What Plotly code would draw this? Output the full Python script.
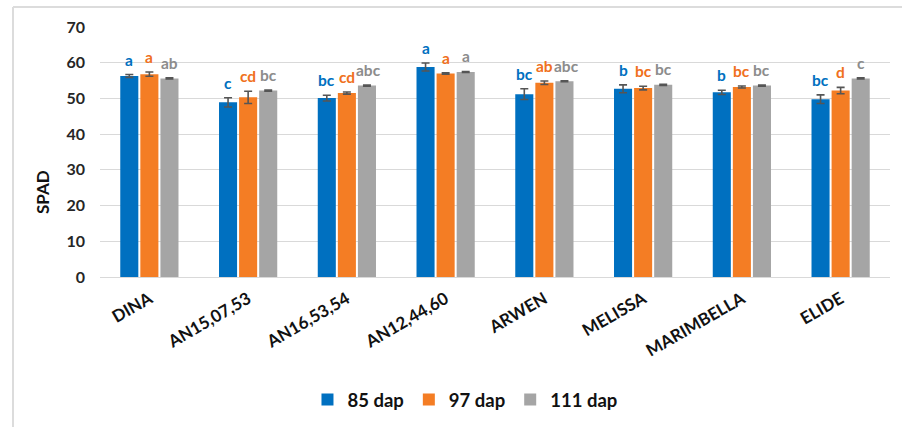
import plotly.graph_objects as go

# Genotypes on the x axis
genotypes = ["DINA", "AN15,07,53", "AN16,53,54", "AN12,44,60",
             "ARWEN", "MELISSA", "MARIMBELLA", "ELIDE"]

# SPAD readings (mean) per sampling date
spad_85 = [56.3, 48.9, 50.1, 58.8, 51.2, 52.7, 51.7, 49.8]
spad_97 = [56.8, 50.3, 51.5, 57.0, 54.4, 52.9, 53.2, 52.2]
spad_111 = [55.6, 52.2, 53.6, 57.4, 54.8, 53.8, 53.6, 55.6]

# Standard errors
err_85 = [0.4, 1.3, 0.8, 1.1, 1.5, 1.1, 0.6, 1.2]
err_97 = [0.6, 1.7, 0.3, 0.2, 0.5, 0.5, 0.3, 0.9]
err_111 = [0.15, 0.15, 0.15, 0.15, 0.15, 0.15, 0.15, 0.15]

# Mean separation letters
let_85 = ["a", "c", "bc", "a", "bc", "b", "b", "bc"]
let_97 = ["a", "cd", "cd", "a", "ab", "bc", "bc", "d"]
let_111 = ["ab", "bc", "abc", "a", "abc", "bc", "bc", "c"]

series = [
    ("85 dap", spad_85, err_85, let_85, "#0070C0", "#0070C0", -20),
    ("97 dap", spad_97, err_97, let_97, "#F47D24", "#F07020", 0),
    ("111 dap", spad_111, err_111, let_111, "#A5A5A5", "#8C8C8C", 20),
]

FONT = "Lato"

fig = go.Figure()
annotations = []
for name, vals, errs, letters, color, txtcolor, shift in series:
    fig.add_trace(go.Bar(
        name=name, x=genotypes, y=vals,
        marker=dict(color=color, line=dict(width=0)),
        error_y=dict(type="data", array=errs, visible=True,
                     color="#555555", thickness=1.6, width=4),
    ))
    for g, v, e, t in zip(genotypes, vals, errs, letters):
        annotations.append(dict(
            x=g, y=v + e, xref="x", yref="y", text=t, showarrow=False,
            xshift=shift + (2 if len(t) == 3 else 0), yshift=4,
            yanchor="bottom",
            font=dict(family=FONT, size=15.5, color=txtcolor, weight="bold"),
        ))

W, H = 902, 427
ML, MR, MT, MB = 100, 12, 27, 150
pw, ph = W - ML - MR, H - MT - MB

# y axis title, placed in pixels and converted to paper coordinates
annotations.append(dict(
    x=(43 - ML) / pw, y=(H - MB - 192) / ph, xref="paper", yref="paper",
    text="SPAD", showarrow=False, textangle=-90,
    xanchor="center", yanchor="middle",
    font=dict(family=FONT, size=17, color="#111111", weight="bold"),
))

fig.update_layout(
    width=W, height=H,
    margin=dict(l=ML, r=MR, t=MT, b=MB, autoexpand=False),
    paper_bgcolor="white", plot_bgcolor="white",
    barmode="group", bargap=0.39, bargroupgap=0.1,
    font=dict(family=FONT, color="#111111"),
    annotations=annotations,
    showlegend=True,
    legend=dict(orientation="h", x=0.462, xanchor="center",
                y=-(400 - (H - MB)) / ph, yanchor="middle",
                font=dict(family=FONT, size=18.5, color="#111111",
                          weight="bold"),
                itemwidth=30, traceorder="normal"),
    xaxis=dict(tickangle=-30, showgrid=False, showline=False, ticks="",
               ticklabelstandoff=8, automargin=False,
               tickfont=dict(family=FONT, size=17, color="#111111",
                             weight="bold")),
    yaxis=dict(range=[0, 70], dtick=10, showgrid=True, gridcolor="#D9D9D9",
               gridwidth=1.2, zeroline=True, zerolinecolor="#D9D9D9",
               zerolinewidth=1.2, showline=False, ticks="",
               ticklabelstandoff=14, automargin=False,
               tickfont=dict(family=FONT, size=16, color="#262626",
                             weight="bold")),
    shapes=[
        dict(type="line", xref="paper", yref="paper",
             x0=(13 - ML) / pw, x1=(W - ML) / pw,
             y0=(H - MB - 7) / ph, y1=(H - MB - 7) / ph,
             line=dict(color="#DCDCDC", width=2)),
        dict(type="line", xref="paper", yref="paper",
             x0=(13 - ML) / pw, x1=(13 - ML) / pw,
             y0=(H - MB - 7) / ph, y1=-MB / ph,
             line=dict(color="#DCDCDC", width=2)),
    ],
)

fig.write_html("out.html")
